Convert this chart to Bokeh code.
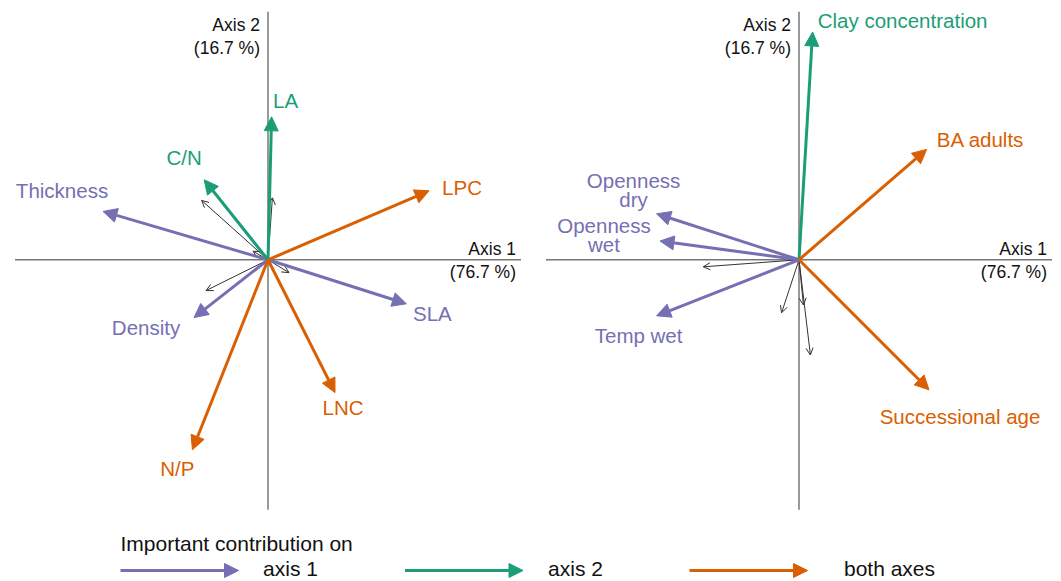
from bokeh.plotting import figure
from bokeh.models import Arrow, NormalHead, OpenHead, ColumnDataSource, Range1d
from bokeh.layouts import column, row
from bokeh.embed import file_html
from bokeh.resources import INLINE
from bokeh.core.properties import value

# ---------------- data ----------------
eig_pct = [76.7, 16.7]                       # % inertia on axis 1 and axis 2
group_names = ["axis 1", "axis 2", "both axes"]
group_colors = ["#7570b3", "#1b9e77", "#d95f02"]
legend_title = "Important contribution on"

# left panel: leaf traits (loadings on axis 1, axis 2), group index 0/1/2
trait_names = ["LA", "C/N", "Thickness", "LPC", "SLA", "Density", "LNC", "N/P"]
trait_ax1 = [0.018, -0.319, -0.825, 0.805, 0.692, -0.370, 0.335, -0.378]
trait_ax2 = [0.715, 0.400, 0.242, 0.345, -0.220, -0.289, -0.664, -0.950]
trait_group = [1, 1, 0, 2, 0, 0, 2, 2]
# minor (non-important) trait loadings
trait_minor_ax1 = [-0.332, -0.310, 0.022, 0.105, -0.075]
trait_minor_ax2 = [0.297, -0.154, 0.310, -0.064, 0.043]

# right panel: environmental variables
env_names = ["Clay concentration", "BA adults", "Openness\ndry", "Openness\nwet",
             "Temp wet", "Successional age"]
env_ax1 = [0.068, 0.638, -0.712, -0.695, -0.712, 0.650]
env_ax2 = [1.139, 0.552, 0.230, 0.094, -0.280, -0.650]
env_group = [1, 2, 0, 0, 0, 2]
env_minor_ax1 = [-0.479, -0.087, 0.057, 0.022]
env_minor_ax2 = [-0.035, -0.265, -0.476, -0.226]

# ---------------- layout / style ----------------
PX = 200.0            # screen pixels per loading unit
FONT = value("Liberation Sans")
PANEL_H = 520
ORIGIN_Y = 259.3      # px from top of panel
trait_label_dx = [14, -20, -41, 33, 26, -48, 8, -15]
trait_label_dy = [16, 22, 21, 3, -10, -10, -15, -19]
env_label_dx = [90, 54, -23, -56, -18, 31]
env_label_dy = [12, 10, 24, 6, -20, -27]


def make_panel(names, ax1, ax2, groups, m1, m2, ldx, ldy, width, origin_x):
    xr = Range1d(-origin_x / PX, (width - origin_x) / PX)
    yr = Range1d(-(PANEL_H - ORIGIN_Y) / PX, ORIGIN_Y / PX)
    p = figure(width=width, height=PANEL_H, x_range=xr, y_range=yr,
               output_backend="svg", toolbar_location=None, min_border=0,
               x_axis_type=None, y_axis_type=None, outline_line_color=None)
    p.grid.visible = False
    p.background_fill_color = "white"

    # axes through origin
    h = 253 / PX
    p.segment(x0=[-h, 0], y0=[0, -250 / PX], x1=[h, 0], y1=[0, 248 / PX],
              line_color="#777777", line_width=1.5)

    # minor arrows
    msrc = ColumnDataSource(dict(x0=[0] * len(m1), y0=[0] * len(m1), x1=m1, y1=m2))
    p.add_layout(Arrow(source=msrc, x_start="x0", y_start="y0", x_end="x1", y_end="y1",
                       line_color="#333333", line_width=1,
                       end=OpenHead(size=7, line_color="#333333", line_width=1)))

    # important arrows per group
    for g, col in enumerate(group_colors):
        idx = [i for i, gg in enumerate(groups) if gg == g]
        if not idx:
            continue
        src = ColumnDataSource(dict(x0=[0] * len(idx), y0=[0] * len(idx),
                                    x1=[ax1[i] for i in idx], y1=[ax2[i] for i in idx]))
        p.add_layout(Arrow(source=src, x_start="x0", y_start="y0", x_end="x1", y_end="y1",
                           line_color=col, line_width=3,
                           end=NormalHead(size=14, fill_color=col, line_color=col, line_width=1)))

    # labels
    lx = [ax1[i] + ldx[i] / PX for i in range(len(names))]
    ly = [ax2[i] + ldy[i] / PX for i in range(len(names))]
    p.text(x=lx, y=ly, text=names, text_color=[group_colors[g] for g in groups],
           text_align="center", text_baseline="middle", text_font=FONT,
           text_font_size="20.5px", text_line_height=0.84)

    # axis titles
    p.text(x=[-8 / PX, -8 / PX], y=[235 / PX, 212 / PX],
           text=["Axis 2", f"({eig_pct[1]} %)"], text_color="#111111",
           text_align="right", text_baseline="middle", text_font=FONT,
           text_font_size="17.5px")
    p.text(x=[248 / PX, 248 / PX], y=[11 / PX, -12 / PX],
           text=["Axis 1", f"({eig_pct[0]} %)"], text_color="#111111",
           text_align="right", text_baseline="middle", text_font=FONT,
           text_font_size="17.5px")
    return p


p1 = make_panel(trait_names, trait_ax1, trait_ax2, trait_group,
                trait_minor_ax1, trait_minor_ax2, trait_label_dx, trait_label_dy, 530, 267.5)
p2 = make_panel(env_names, env_ax1, env_ax2, env_group,
                env_minor_ax1, env_minor_ax2, env_label_dx, env_label_dy, 531, 268.5)

# legend strip
LW, LH = 1061, 61
pl = figure(width=LW, height=LH, x_range=Range1d(0, LW), y_range=Range1d(0, LH),
            output_backend="svg", toolbar_location=None, min_border=0,
            x_axis_type=None, y_axis_type=None, outline_line_color=None)
pl.grid.visible = False
pl.text(x=[120], y=[38], text=[legend_title], text_color="#111111",
        text_align="left", text_baseline="middle", text_font=FONT, text_font_size="21px")
leg_label_x = [290, 575, 889]
for i, (name, col) in enumerate(zip(group_names, group_colors)):
    xs = 120 + i * 284.5
    src = ColumnDataSource(dict(x0=[xs], y0=[11], x1=[xs + 118], y1=[11]))
    pl.add_layout(Arrow(source=src, x_start="x0", y_start="y0", x_end="x1", y_end="y1",
                        line_color=col, line_width=3,
                        end=NormalHead(size=14, fill_color=col, line_color=col, line_width=1)))
pl.text(x=leg_label_x, y=[13, 13, 13], text=group_names, text_color="#111111",
        text_align="center", text_baseline="middle", text_font=FONT, text_font_size="21px")

layout = column(row(p1, p2), pl)
open("out.html", "w").write(file_html(layout, INLINE))
